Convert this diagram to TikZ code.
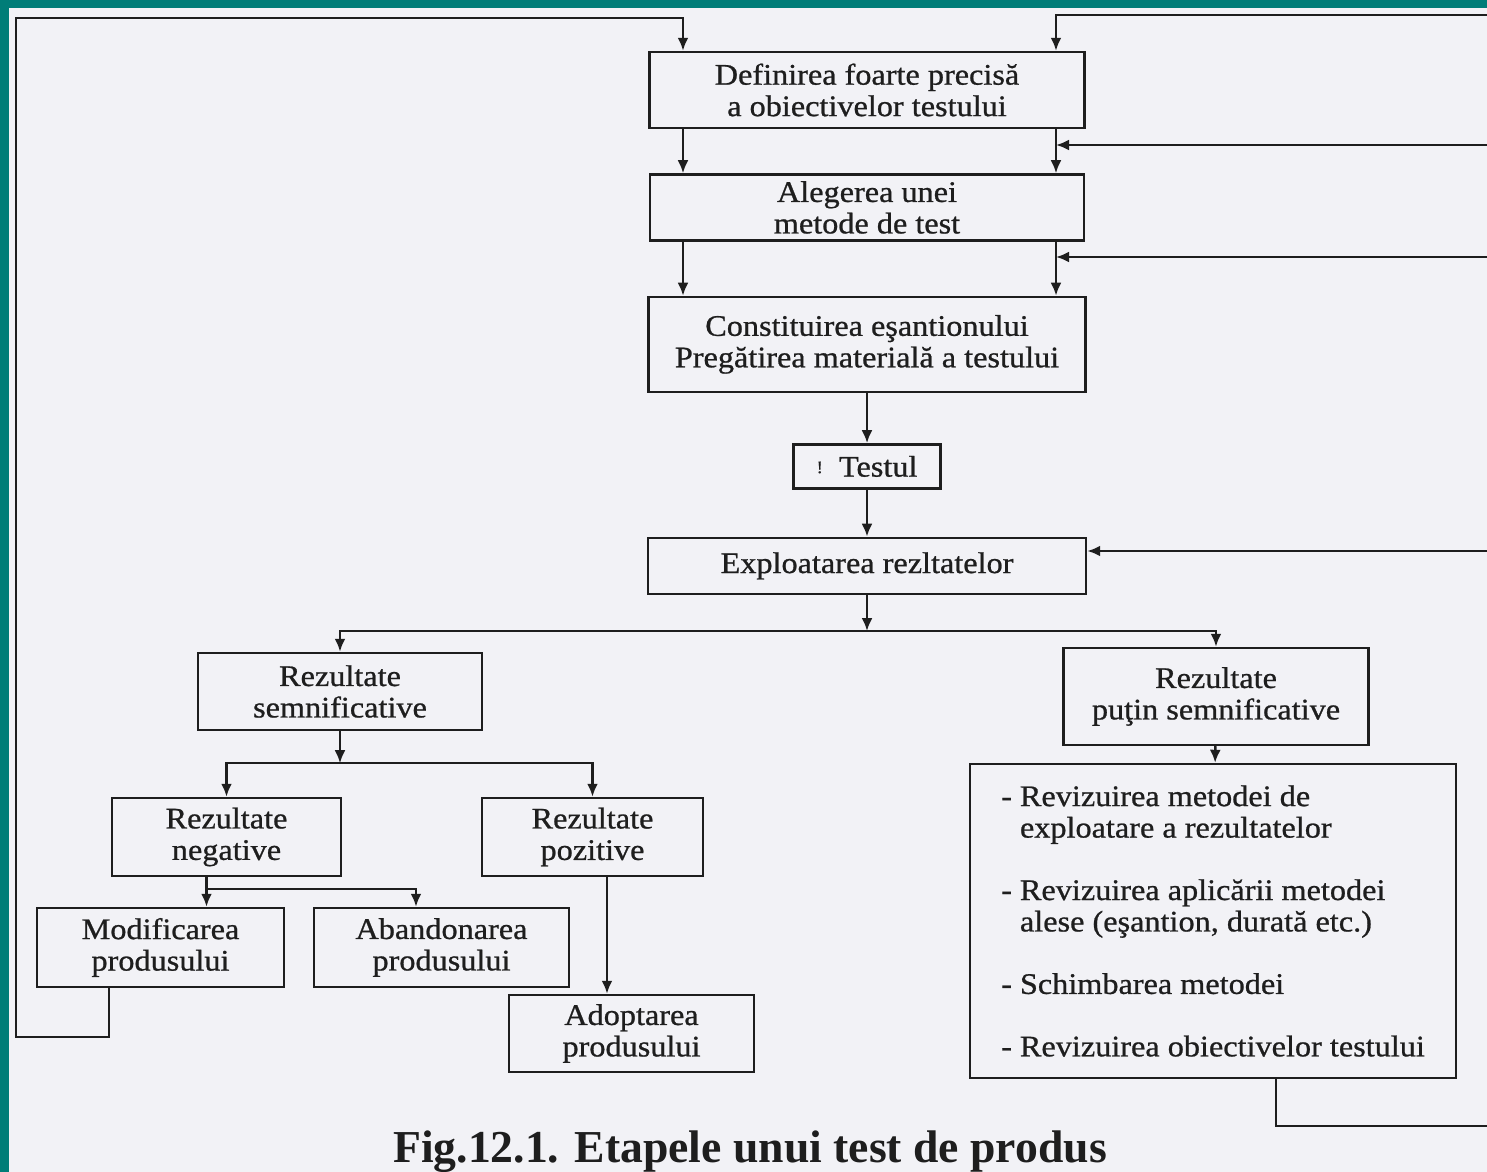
\documentclass[tikz,border=0pt]{standalone}
\usepackage{fontspec}
\setmainfont[FakeStretch=1.08,FakeBold=0.8]{Liberation Serif}
\newfontfamily\capfont{Liberation Serif}
\usepackage{xcolor}
\usepackage{tikz}
\usetikzlibrary{positioning,arrows.meta}
\definecolor{pagebg}{RGB}{242,242,246}
\definecolor{frame}{RGB}{0,125,120}
\definecolor{ink}{RGB}{30,30,30}
\newlength\pxu
\setlength\pxu{0.02cm}
\tikzset{
	box/.style={draw=ink,line width=1.4pt,inner sep=0pt,align=center,font=\fontsize{17}{17.9}\selectfont},
}

\begin{document}
\begin{tikzpicture}[x=1\pxu,y=-1\pxu,->,>={Latex[length=0.26cm,width=0.22cm]},line width=1.4pt,color=ink]
			\fill[frame] (0,0) rectangle (1487,1172);
			\fill[pagebg] (9,8) rectangle (1487,1172);
			\useasboundingbox (0,0) rectangle (1487,1172);

			\node[box,minimum width=435\pxu,minimum height=76\pxu] (def) at (867,90) {Definirea foarte precisă\\a obiectivelor testului};
			\node[box,minimum width=434\pxu,minimum height=66\pxu] (alg) [below=44\pxu of def] {Alegerea unei\\metode de test};
			\node[box,minimum width=437\pxu,minimum height=95\pxu] (cons) [below=54\pxu of alg] {Constituirea eşantionului\\Pregătirea materială a testului};
			\node[box,minimum width=147\pxu,minimum height=44\pxu] (test) [below=50\pxu of cons] {\raisebox{2pt}{\fontsize{10}{10}\selectfont !}\ \ Testul};
			\node[box,minimum width=438\pxu,minimum height=56\pxu] (expl) [below=47\pxu of test] {Exploatarea rezltatelor};
			\node[box,minimum width=284\pxu,minimum height=77\pxu] (rsem) at (340,691.5) {Rezultate\\semnificative};
			\node[box,minimum width=305\pxu,minimum height=97\pxu] (rput) at (1216,696.5) {Rezultate\\puţin semnificative};
			\node[box,minimum width=229\pxu,minimum height=78\pxu] (rneg) at (226.5,837) {Rezultate\\negative};
			\node[box,minimum width=221\pxu,minimum height=78\pxu] (rpoz) at (592.5,837) {Rezultate\\pozitive};
			\node[box,minimum width=247\pxu,minimum height=79\pxu] (modif) at (160.5,947.5) {Modificarea\\produsului};
			\node[box,minimum width=255\pxu,minimum height=79\pxu] (aband) at (441.5,947.5) {Abandonarea\\produsului};
			\node[box,minimum width=245\pxu,minimum height=77\pxu] (adopt) at (631.5,1033.5) {Adoptarea\\produsului};
			\node[box,minimum width=486\pxu,minimum height=314\pxu,align=left] (rev) at (1213,921) {- Revizuirea metodei de\\\phantom{- }exploatare a rezultatelor\\[0.62cm]- Revizuirea aplicării metodei\\\phantom{- }alese (eşantion, durată etc.)\\[0.62cm]- Schimbarea metodei\\[0.62cm]- Revizuirea obiectivelor testului};
			\node[font=\capfont\bfseries\fontsize{26}{30}\selectfont] (fig) at (750,1152) {Fig.12.1. Etapele unui test de produs};

			\coordinate (aL) at (683,0);
			\coordinate (aR) at (1056,0);
			\coordinate (fb0) at (1487,15);
			\coordinate (fb1) at (1487,145);
			\coordinate (fb2) at (1487,257);
			\coordinate (fb3) at (1487,551);
			\coordinate (ltop) at (16,18);
			\coordinate (lbot) at (109,1037);
			\coordinate (ab) at (416,0);
			\coordinate (pz) at (607,0);
			\coordinate (rl) at (1276,0);
			\coordinate (rr) at (1487,1126);
			\path (expl.south) ++(0,36) coordinate (sp1);
			\path (rsem.south) ++(0,32) coordinate (sp2);
			\path (rneg.south) ++(-20,12) coordinate (sp3);

			% returns to the first steps
			\draw (fb0) -| (def.north -| aR);
			\draw (modif.south -| lbot) -- (lbot) -| (ltop) -| (def.north -| aL);
			\draw (fb1) -- (fb1 -| aR);
			\draw (fb2) -- (fb2 -| aR);
			\draw (fb3) -- (fb3 -| expl.east);
			\draw[-] (rev.south -| rl) |- (rr);

			% main column
			\draw (def.south -| aL) -- (alg.north -| aL);
			\draw (def.south -| aR) -- (alg.north -| aR);
			\draw (alg.south -| aL) -- (cons.north -| aL);
			\draw (alg.south -| aR) -- (cons.north -| aR);
			\draw (cons) -- (test);
			\draw (test) -- (expl);

			% results
			\draw (expl) -- (sp1);
			\draw (sp1) -| (rsem);
			\draw (sp1) -| (rput);
			\draw (rput) -- (rev);
			\draw (rsem) -- (sp2);
			\draw (sp2) -| (rneg);
			\draw (sp2) -| (rpoz);
			\draw[-] (rneg.south -| sp3) -- (sp3);
			\draw (sp3) -- (modif.north -| sp3);
			\draw (sp3) -| (aband.north -| ab);
			\draw (rpoz.south -| pz) -- (adopt.north -| pz);
\end{tikzpicture}
\end{document}
